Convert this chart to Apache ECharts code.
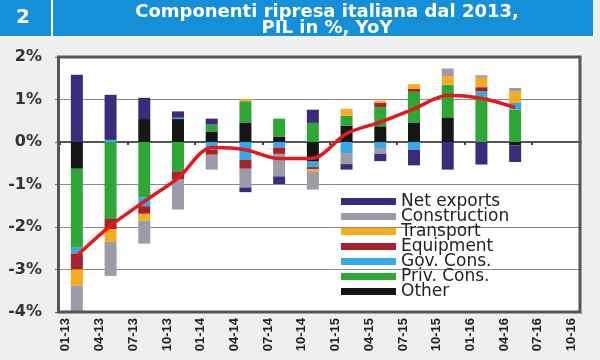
<!DOCTYPE html>
<html><head><meta charset="utf-8">
<script src="https://cdn.jsdelivr.net/npm/echarts@6/dist/echarts.min.js"></script>
<style>html,body{margin:0;padding:0;background:#efefef}#c{width:600px;height:360px}</style>
</head><body><div id="c"></div>
<script>
const categories = ['01-13','04-13','07-13','10-13','01-14','04-14','07-14','10-14','01-15','04-15','07-15','10-15','01-16','04-16','07-16','10-16'];
const yTicks = [-4, -3, -2, -1, 0, 1, 2];
const other        = [-0.63, 0, 0.54, 0.54, 0.25, 0.46, 0.13, -0.46, 0.38, 0.37, 0.46, 0.58, 0, -0.08, null, null];
const privCons     = [-1.86, -1.81, -1.30, -0.69, 0.16, 0.50, 0.42, 0.45, 0.24, 0.45, 0.72, 0.77, 1.07, 0.76, null, null];
const govCons      = [-0.14, 0.05, -0.21, 0.03, -0.18, -0.42, -0.13, -0.13, -0.26, -0.14, -0.18, 0, 0.12, 0.16, null, null];
const equipment    = [-0.37, -0.24, -0.18, -0.18, -0.12, -0.21, -0.15, -0.05, 0, 0.10, 0.07, 0, 0.10, 0, null, null];
const transport    = [-0.38, -0.30, -0.16, 0, 0, 0.05, 0, -0.05, 0.16, 0.05, 0.11, 0.20, 0.22, 0.27, null, null];
const construction = [-0.60, -0.80, -0.54, -0.72, -0.35, -0.44, -0.53, -0.43, -0.26, -0.14, 0, 0.18, 0.06, 0.08, null, null];
const netExports   = [1.58, 1.06, 0.50, 0.15, 0.14, -0.11, -0.18, 0.31, -0.13, -0.17, -0.37, -0.65, -0.53, -0.39, null, null];
const gdp          = [-2.68, -1.97, -1.40, -0.85, -0.13, -0.18, -0.39, -0.38, 0.20, 0.47, 0.78, 1.10, 1.03, 0.81, null, null];
const legendOrder = ['Net exports','Construction','Transport','Equipment','Gov. Cons.','Priv. Cons.','Other'];

const stackDefs = [
  ['Other', other, '#161616'],
  ['Priv. Cons.', privCons, '#2fa737'],
  ['Gov. Cons.', govCons, '#35a9e8'],
  ['Equipment', equipment, '#a6232b'],
  ['Transport', transport, '#f7ab1d'],
  ['Construction', construction, '#9c9ca8'],
  ['Net exports', netExports, '#3c2a7a']
];

const chart = echarts.init(document.getElementById('c'), null, {renderer: 'canvas'});
const series = stackDefs.map(d => ({
  name: d[0], type: 'bar', stack: 'total', data: d[1], barWidth: 12,
  itemStyle: {color: d[2]}, xAxisIndex: 0
}));
series.push({
  name: 'PIL', type: 'line', data: gdp, smooth: 0.3, symbol: 'none', z: 10,
  lineStyle: {color: '#e3191c', width: 3.5}, xAxisIndex: 0
});

chart.setOption({
  animation: false,
  backgroundColor: '#efefef',
  title: {
    text: 'Componenti ripresa italiana dal 2013,\nPIL in %, YoY',
    left: 322, top: -1, textAlign: 'center',
    textStyle: {color: '#fff', fontWeight: 'bold', fontSize: 18, fontFamily: 'DejaVu Sans', lineHeight: 16}
  },
  grid: {left: 60, top: 57, width: 542, bottom: 48, show: true, backgroundColor: '#fff', borderWidth: 0},
  legend: {
    data: legendOrder, orient: 'vertical', left: 336, top: 188,
    itemWidth: 55, itemHeight: 7, itemGap: -2, icon: 'rect', selectedMode: false,
    textStyle: {fontSize: 17, fontFamily: 'DejaVu Sans', color: '#222', lineHeight: 15}
  },
  xAxis: [{
    type: 'category', data: categories, position: 'bottom',
    axisLine: {show: false, onZero: false}, axisTick: {show: false},
    axisLabel: {
      rotate: 90, margin: 6, interval: 0,
      formatter: v => '{t|' + v + '}\n{t| }',
      rich: {t: {fontSize: 13, fontWeight: 'bold', fontFamily: 'Liberation Sans', color: '#222', lineHeight: 22}}
    }
  }, {
    type: 'category', data: categories, position: 'top',
    axisLine: {show: true, onZero: true, lineStyle: {color: '#555', width: 2}},
    axisTick: {show: true, inside: true, length: 3, lineStyle: {color: '#444', width: 2}},
    axisLabel: {show: false}, splitLine: {show: false}
  }],
  yAxis: {
    type: 'value', min: yTicks[0], max: yTicks[yTicks.length - 1], interval: 1,
    axisLine: {show: false},
    axisTick: {show: true, length: 5, lineStyle: {color: '#666'}},
    axisLabel: {formatter: '{value}%', fontWeight: 'bold', fontSize: 16, fontFamily: 'DejaVu Sans', color: '#333', margin: 18},
    splitLine: {lineStyle: {color: '#8a8a8a', width: 1}}
  },
  graphic: [
    {type: 'rect', z: 0, shape: {x: 0, y: 0, width: 593, height: 36}, style: {fill: '#168fd9'}},
    {type: 'rect', z: 1, shape: {x: 51, y: 0, width: 2, height: 36}, style: {fill: '#ffffff'}},
    {type: 'text', z: 2, style: {x: 23, y: 18, text: '2', fill: '#fff', font: 'bold 20px "DejaVu Sans"', align: 'center', verticalAlign: 'middle'}},
    {type: 'rect', z: 99, shape: {x: 581.5, y: 50, width: 20, height: 264}, style: {fill: '#efefef'}},
    {type: 'rect', z: 100, shape: {x: 58.5, y: 57, width: 521.5, height: 255}, style: {fill: 'transparent', stroke: '#555', lineWidth: 3}}
  ],
  series: series
});
</script></body></html>
